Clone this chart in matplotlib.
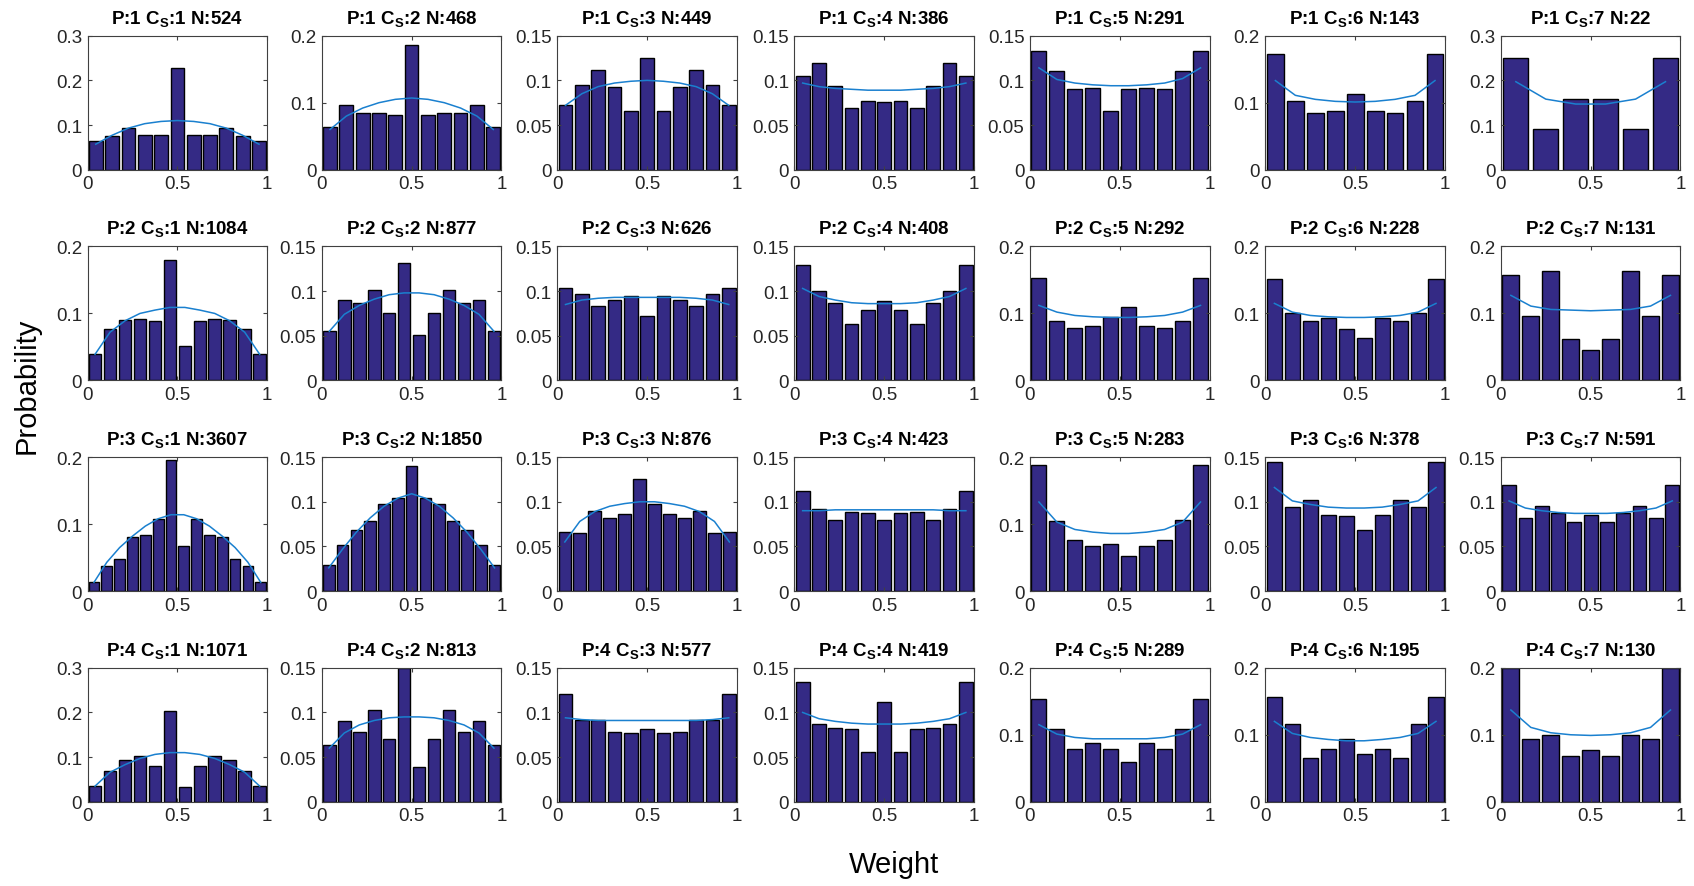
import numpy as np
import matplotlib
matplotlib.use('Agg')
import matplotlib.pyplot as plt
from matplotlib.ticker import FormatStrFormatter, MultipleLocator

plt.rcParams['font.family'] = ['Liberation Sans', 'DejaVu Sans']
plt.rcParams['mathtext.fontset'] = 'custom'
plt.rcParams['mathtext.rm'] = 'Liberation Sans'
plt.rcParams['mathtext.bf'] = 'Liberation Sans:bold'

# sample sizes, one row per P
n_p1 = [524, 468, 449, 386, 291, 143, 22]
n_p2 = [1084, 877, 626, 408, 292, 228, 131]
n_p3 = [3607, 1850, 876, 423, 283, 378, 591]
n_p4 = [1071, 813, 577, 419, 289, 195, 130]

# histogram probabilities
bars_p1 = [
    [0.065, 0.075, 0.093, 0.078, 0.077, 0.228, 0.077, 0.078, 0.093, 0.075, 0.065],
    [0.063, 0.097, 0.084, 0.084, 0.082, 0.186, 0.082, 0.084, 0.084, 0.097, 0.063],
    [0.072, 0.095, 0.112, 0.093, 0.066, 0.125, 0.066, 0.093, 0.112, 0.095, 0.072],
    [0.105, 0.120, 0.094, 0.069, 0.077, 0.076, 0.077, 0.069, 0.094, 0.120, 0.105],
    [0.133, 0.110, 0.090, 0.091, 0.066, 0.090, 0.091, 0.090, 0.110, 0.133],
    [0.172, 0.102, 0.085, 0.088, 0.113, 0.088, 0.085, 0.102, 0.172],
    [0.250, 0.091, 0.159, 0.159, 0.091, 0.250],
]
bars_p2 = [
    [0.039, 0.077, 0.090, 0.092, 0.089, 0.180, 0.052, 0.089, 0.092, 0.090, 0.077, 0.039],
    [0.055, 0.090, 0.087, 0.101, 0.075, 0.131, 0.051, 0.075, 0.101, 0.087, 0.090, 0.055],
    [0.104, 0.097, 0.083, 0.090, 0.094, 0.072, 0.094, 0.090, 0.083, 0.097, 0.104],
    [0.129, 0.100, 0.087, 0.063, 0.079, 0.089, 0.079, 0.063, 0.087, 0.100, 0.129],
    [0.153, 0.089, 0.078, 0.081, 0.094, 0.110, 0.081, 0.078, 0.089, 0.153],
    [0.152, 0.100, 0.088, 0.093, 0.077, 0.064, 0.093, 0.088, 0.100, 0.152],
    [0.157, 0.096, 0.164, 0.062, 0.046, 0.062, 0.164, 0.096, 0.157],
]
bars_p3 = [
    [0.013, 0.037, 0.048, 0.081, 0.084, 0.107, 0.196, 0.068, 0.107, 0.084, 0.081, 0.048, 0.037, 0.013],
    [0.029, 0.052, 0.068, 0.079, 0.098, 0.104, 0.140, 0.104, 0.098, 0.079, 0.068, 0.052, 0.029],
    [0.066, 0.065, 0.090, 0.082, 0.086, 0.126, 0.097, 0.086, 0.082, 0.090, 0.065, 0.066],
    [0.112, 0.092, 0.080, 0.089, 0.087, 0.080, 0.087, 0.089, 0.080, 0.092, 0.112],
    [0.189, 0.105, 0.076, 0.067, 0.071, 0.053, 0.067, 0.076, 0.106, 0.189],
    [0.144, 0.094, 0.102, 0.085, 0.084, 0.068, 0.085, 0.102, 0.094, 0.144],
    [0.119, 0.082, 0.095, 0.087, 0.077, 0.085, 0.077, 0.087, 0.095, 0.082, 0.119],
]
bars_p4 = [
    [0.035, 0.069, 0.094, 0.103, 0.080, 0.203, 0.032, 0.080, 0.103, 0.094, 0.069, 0.035],
    [0.064, 0.090, 0.078, 0.103, 0.070, 0.150, 0.039, 0.070, 0.103, 0.078, 0.090, 0.064],
    [0.121, 0.091, 0.091, 0.078, 0.077, 0.081, 0.077, 0.078, 0.091, 0.091, 0.121],
    [0.134, 0.087, 0.083, 0.082, 0.056, 0.112, 0.056, 0.082, 0.083, 0.087, 0.134],
    [0.154, 0.109, 0.079, 0.088, 0.079, 0.059, 0.088, 0.079, 0.109, 0.154],
    [0.157, 0.116, 0.066, 0.079, 0.093, 0.072, 0.079, 0.066, 0.116, 0.157],
    [0.200, 0.093, 0.100, 0.069, 0.077, 0.069, 0.100, 0.093, 0.200],
]

# fitted curve at the bin centres
fit_p1 = [
    [0.057, 0.077, 0.093, 0.103, 0.108, 0.110, 0.108, 0.103, 0.093, 0.077, 0.057],
    [0.060, 0.080, 0.092, 0.100, 0.105, 0.107, 0.105, 0.100, 0.092, 0.080, 0.060],
    [0.072, 0.085, 0.093, 0.097, 0.099, 0.100, 0.099, 0.097, 0.093, 0.085, 0.072],
    [0.097, 0.093, 0.091, 0.090, 0.089, 0.089, 0.089, 0.090, 0.091, 0.093, 0.097],
    [0.114, 0.101, 0.097, 0.095, 0.094, 0.094, 0.095, 0.097, 0.102, 0.114],
    [0.133, 0.111, 0.105, 0.102, 0.101, 0.102, 0.105, 0.111, 0.133],
    [0.197, 0.158, 0.147, 0.147, 0.158, 0.197],
]
fit_p2 = [
    [0.039, 0.072, 0.089, 0.100, 0.105, 0.109, 0.109, 0.105, 0.100, 0.089, 0.072, 0.039],
    [0.055, 0.074, 0.084, 0.091, 0.096, 0.098, 0.098, 0.096, 0.091, 0.084, 0.074, 0.055],
    [0.085, 0.090, 0.092, 0.093, 0.093, 0.093, 0.093, 0.093, 0.092, 0.090, 0.085],
    [0.103, 0.094, 0.090, 0.087, 0.086, 0.086, 0.086, 0.087, 0.090, 0.094, 0.103],
    [0.112, 0.102, 0.097, 0.095, 0.094, 0.094, 0.095, 0.097, 0.102, 0.112],
    [0.115, 0.102, 0.097, 0.095, 0.094, 0.094, 0.095, 0.097, 0.102, 0.115],
    [0.127, 0.111, 0.106, 0.105, 0.104, 0.105, 0.106, 0.111, 0.127],
]
fit_p3 = [
    [0.013, 0.043, 0.065, 0.082, 0.097, 0.108, 0.114, 0.114, 0.108, 0.097, 0.082, 0.065, 0.043, 0.013],
    [0.026, 0.047, 0.066, 0.082, 0.095, 0.104, 0.109, 0.104, 0.095, 0.082, 0.066, 0.047, 0.026],
    [0.055, 0.078, 0.089, 0.095, 0.098, 0.100, 0.100, 0.098, 0.095, 0.089, 0.078, 0.055],
    [0.090, 0.090, 0.091, 0.091, 0.091, 0.091, 0.091, 0.091, 0.091, 0.090, 0.090],
    [0.133, 0.103, 0.092, 0.088, 0.086, 0.086, 0.088, 0.092, 0.103, 0.133],
    [0.116, 0.101, 0.097, 0.094, 0.093, 0.093, 0.094, 0.097, 0.101, 0.116],
    [0.101, 0.093, 0.090, 0.088, 0.087, 0.087, 0.087, 0.088, 0.090, 0.093, 0.101],
]
fit_p4 = [
    [0.035, 0.066, 0.083, 0.097, 0.106, 0.110, 0.110, 0.106, 0.097, 0.083, 0.066, 0.035],
    [0.060, 0.077, 0.086, 0.091, 0.094, 0.095, 0.095, 0.094, 0.091, 0.086, 0.077, 0.060],
    [0.094, 0.092, 0.091, 0.091, 0.091, 0.091, 0.091, 0.091, 0.091, 0.092, 0.094],
    [0.100, 0.093, 0.090, 0.088, 0.087, 0.087, 0.087, 0.088, 0.090, 0.093, 0.100],
    [0.115, 0.101, 0.096, 0.094, 0.094, 0.094, 0.094, 0.096, 0.101, 0.115],
    [0.120, 0.102, 0.096, 0.093, 0.091, 0.091, 0.093, 0.096, 0.102, 0.120],
    [0.137, 0.111, 0.103, 0.100, 0.099, 0.100, 0.103, 0.111, 0.137],
]

ylim_p1 = [0.3, 0.2, 0.15, 0.15, 0.15, 0.2, 0.3]
ylim_p2 = [0.2, 0.15, 0.15, 0.15, 0.2, 0.2, 0.2]
ylim_p3 = [0.2, 0.15, 0.15, 0.15, 0.2, 0.15, 0.15]
ylim_p4 = [0.3, 0.15, 0.15, 0.15, 0.2, 0.2, 0.2]

bars = [bars_p1, bars_p2, bars_p3, bars_p4]
fits = [fit_p1, fit_p2, fit_p3, fit_p4]
ns = [n_p1, n_p2, n_p3, n_p4]
ylims = [ylim_p1, ylim_p2, ylim_p3, ylim_p4]

fig = plt.figure(figsize=(16.94, 8.87), dpi=100)
lefts = [0.0517, 0.190, 0.329, 0.469, 0.608, 0.747, 0.886]
bottoms = [0.8076, 0.570, 0.3325, 0.095]
w, h = 0.106, 0.151
txt = '#262626'

for r in range(4):
    for c in range(7):
        ax = fig.add_axes([lefts[c], bottoms[r], w, h])
        b = np.array(bars[r][c])
        k = len(b)
        x = (np.arange(k) + 0.5) / k
        ax.bar(x, b, width=0.84 / k, color='#342a85', edgecolor='black', linewidth=1.0)
        ax.plot(x, fits[r][c], color='#1a80cf', lw=1.1)
        ax.set_xlim(0, 1)
        ax.set_ylim(0, ylims[r][c])
        ax.set_xticks([0, 0.5, 1])
        step = 0.05 if ylims[r][c] == 0.15 else 0.1
        ax.yaxis.set_major_locator(MultipleLocator(step))
        ax.xaxis.set_major_formatter(FormatStrFormatter('%g'))
        ax.yaxis.set_major_formatter(FormatStrFormatter('%g'))
        ax.tick_params(direction='in', length=3, width=0.8, top=True, right=True,
                       labelsize=13.5, labelcolor=txt, color='#404040', pad=4)
        for s in ax.spines.values():
            s.set_color('#404040')
            s.set_linewidth(0.8)
        ax.set_title(r'P:%d C$_{\mathbf{S}}$:%d N:%d' % (r + 1, c + 1, ns[r][c]),
                     fontsize=13.5, fontweight='bold', color='black', pad=9)

fig.text(0.016, 0.565, 'Probability', rotation=90, fontsize=21, va='center', ha='center', color='black')
fig.text(0.528, 0.025, 'Weight', fontsize=21, va='center', ha='center', color='black')

fig.savefig('out.png', dpi=100)
